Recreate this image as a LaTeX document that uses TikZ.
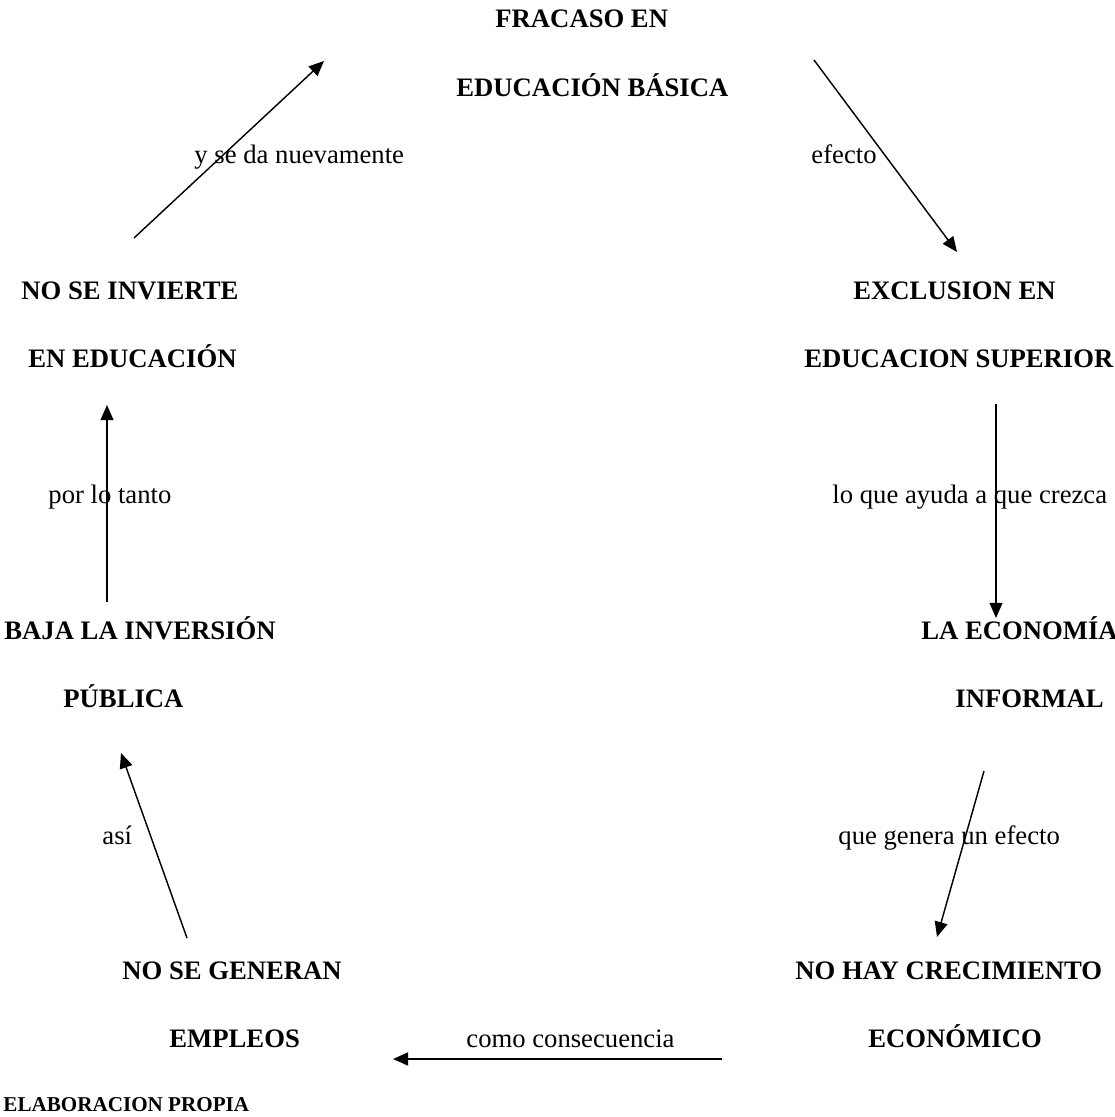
\documentclass[tikz,border=0pt]{standalone}
\usepackage{fontspec}
\setmainfont{Liberation Serif}
\usepackage{tikz}
\usetikzlibrary{arrows.meta}
\tikzset{every node/.style={align=left}}
\tikzset{
  concepto/.style={font=\fontsize{12}{14}\selectfont\bfseries,anchor=base west,inner sep=0pt},
  enlace/.style={font=\fontsize{12}{14}\selectfont,anchor=base west,inner sep=0pt},
  flecha/.style={-{Triangle[length=6.8pt,width=5.8pt]},line width=0.65pt}
}

\begin{document}
\begin{tikzpicture}[x=0.45pt,y=-0.45pt]
        \useasboundingbox (0,0) rectangle (1115,1117);

        % conceptos
        \node[concepto] (fracA) at (495,27) {FRACASO EN};
        \node[concepto] (fracB) at (456,96) {EDUCACIÓN BÁSICA};
        \node[concepto] (exclA) at (853,299) {EXCLUSION EN};
        \node[concepto] (exclB) at (804,367) {EDUCACION SUPERIOR};
        \node[concepto] (econA) at (921,639) {LA ECONOMÍA};
        \node[concepto] (econB) at (955,707) {INFORMAL};
        \node[concepto] (crecA) at (795,979) {NO HAY CRECIMIENTO};
        \node[concepto] (crecB) at (868,1047) {ECONÓMICO};
        \node[concepto] (emplA) at (122,979) {NO SE GENERAN};
        \node[concepto] (emplB) at (169,1047) {EMPLEOS};
        \node[concepto] (bajaA) at (4,639) {BAJA LA INVERSIÓN};
        \node[concepto] (bajaB) at (63,707) {PÚBLICA};
        \node[concepto] (invA) at (21,299) {NO SE INVIERTE};
        \node[concepto] (invB) at (28,367) {EN EDUCACIÓN};

        % enlaces
        \node[enlace] (efecto) at (811,163) {efecto};
        \node[enlace] (ayuda) at (832,503) {lo que ayuda a que crezca};
        \node[enlace] (genera) at (838,844) {que genera un efecto};
        \node[enlace] (consec) at (466,1047) {como consecuencia};
        \node[enlace] (asi) at (102,844) {así};
        \node[enlace] (tanto) at (48,503) {por lo tanto};
        \node[enlace] (nueva) at (194,163) {y se da nuevamente};

        \node[concepto,font=\fontsize{9.5}{11}\selectfont\bfseries] (fuente) at (3,1111) {ELABORACION PROPIA};

        % extremos de las flechas
        \coordinate (fracS) at (814,60);
        \coordinate (exclT) at (957,252);
        \coordinate (exclS) at (996,404);
        \coordinate (econT) at (996,618);
        \coordinate (econS) at (984,771);
        \coordinate (crecT) at (937,937);
        \coordinate (crecS) at (722,1059);
        \coordinate (emplT) at (393,1059);
        \coordinate (emplS) at (187,938);
        \coordinate (bajaT) at (121,753);
        \coordinate (bajaS) at (107,602);
        \coordinate (invT) at (107,405);
        \coordinate (invS) at (134,238);
        \coordinate (fracT) at (324,61);

        % fracaso to exclusion
        \draw[flecha] (fracS) -- (exclT);
        % exclusion to economia informal
        \draw[flecha] (exclS) -- (econT);
        % economia informal to crecimiento
        \draw[flecha] (econS) -- (crecT);
        % crecimiento to empleos
        \draw[flecha,line width=1pt] (crecS) -- (emplT);
        % empleos to inversion
        \draw[flecha] (emplS) -- (bajaT);
        % inversion to educacion
        \draw[flecha] (bajaS) -- (invT);
        % educacion to fracaso
        \draw[flecha] (invS) -- (fracT);

    \end{tikzpicture}
\end{document}
